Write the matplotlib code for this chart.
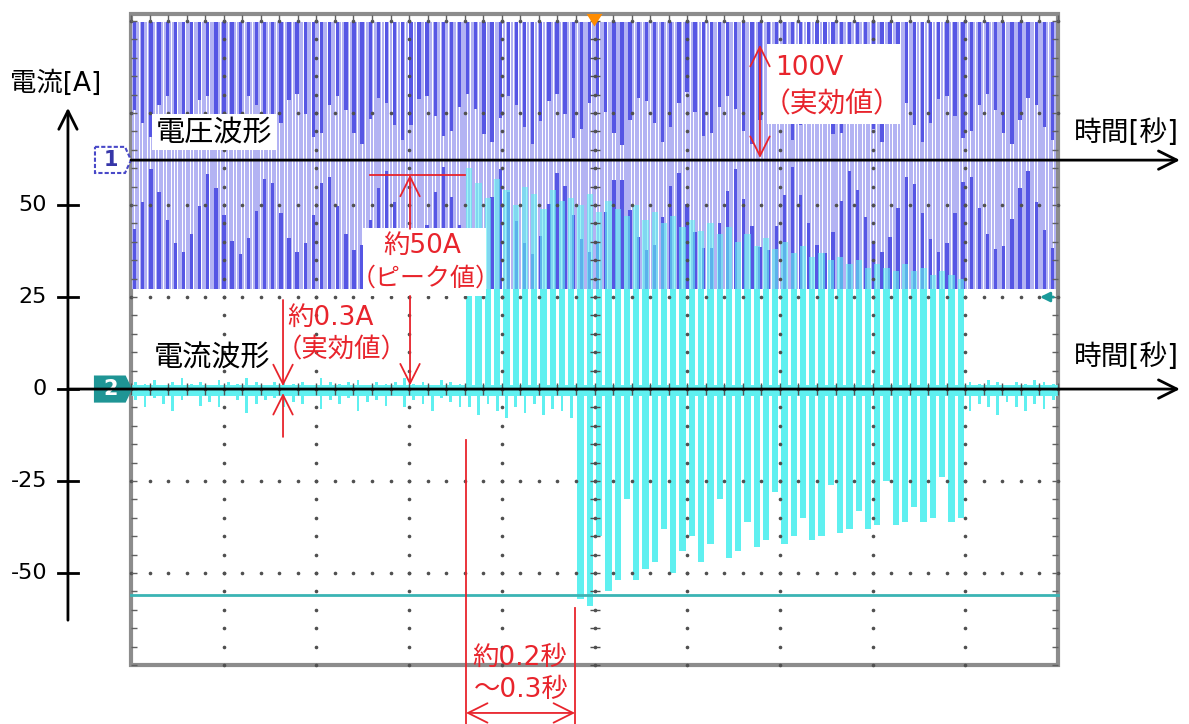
import numpy as np
import matplotlib.pyplot as plt
from matplotlib.patches import Rectangle, Polygon

plt.rcParams['font.family'] = ['DejaVu Sans', 'Noto Sans CJK JP']

# --- datos -------------------------------------------------------------------

# 電圧波形 (100V/div), 表示の上端と下端 [V]
v_top = 150
v_bottom = -140
# 上から垂れる濃い縦線の下端 [V]
v_upper_ends = [55, 40, 25, 60, 70, 45, 20, 35, 65, 70, 50, 30, 15, 45, 70, 60, 35, 20, 40,
                65, 72, 50, 25, 30, 60, 70, 55, 30, 18, 45, 68, 62, 38, 22, 38, 66, 70, 48,
                26, 32, 58, 72, 56, 28, 20, 46, 70, 60, 36, 18, 42, 64, 72, 50, 24, 34, 62,
                70, 52, 30, 16, 44, 68, 64, 40, 20, 36, 62, 74, 52, 26, 30, 58, 70, 56, 32,
                18, 44, 66, 66, 42, 22, 38, 64, 72, 50, 28, 30, 56, 70, 58, 34, 20, 46, 68,
                62, 38, 20, 40, 66, 70, 48, 24, 32, 60, 72, 54, 30, 18, 44, 68, 60, 36, 22]
# 下から伸びる濃い縦線の上端 [V]
v_lower_ends = [-75, -45, -10, -35, -65, -90, -100, -80, -50, -15, -30, -60, -88, -102, -85, -55, -20, -25, -58,
                -85, -100, -90, -60, -25, -18, -50, -80, -98, -92, -65, -30, -12, -45, -75, -95, -96, -70, -35,
                -8, -40, -70, -92, -100, -75, -40, -10, -35, -66, -90, -102, -82, -48, -14, -28, -60, -86, -100,
                -88, -56, -22, -22, -54, -84, -98, -92, -62, -28, -14, -48, -78, -96, -95, -68, -34, -10, -42,
                -72, -94, -98, -72, -38, -8, -38, -68, -92, -101, -78, -44, -12, -32, -62, -88, -100, -84, -52,
                -18, -26, -58, -86, -100, -90, -58, -24, -18, -52, -80, -97, -93, -64, -30, -12, -46, -76, -95]

# 電流波形: 1周期 (0.02秒) ごとの正・負のピーク [A]
i_pos = [2, 1.5, 2.5, 1, 2, 3, 1.5, 2, 1, 2.5, 2, 1.5, 3, 2, 1, 2, 2.5, 1.5,
         2, 1, 3, 2, 1.5, 2, 2.5, 1, 2, 1.5, 2, 3, 1.5, 2, 1, 2.5, 2, 1.5,
         60, 56, 52, 57, 54, 50, 55, 53, 49, 54, 51, 52, 50, 53, 48, 51, 49, 47,
         50, 46, 48, 45, 47, 44, 46, 43, 45, 42, 44, 40, 42, 39, 41, 38, 40, 37,
         39, 36, 37, 35, 36, 34, 35, 33, 34, 33, 32, 34, 32, 33, 31, 32, 31, 30,
         2, 1.5, 2.5, 2, 1, 2, 1.5, 2.5, 2, 1.5]
i_neg = [-3, -5, -2.5, -4, -6, -3, -2, -4.5, -3.5, -5, -2, -3, -6.5, -4, -3, -2.5, -5, -3.5,
         -4, -2, -5.5, -3, -4, -2.5, -6, -3.5, -3, -4.5, -2, -5, -3, -4, -6, -2.5, -3.5, -5,
         -5, -7, -4, -6, -8, -5, -6.5, -4, -7, -5.5, -6, -8,
         -57, -59, -40, -55, -52, -30, -52, -49, -47, -38, -50, -44, -40, -47,
         -42, -30, -46, -44, -36, -43, -41, -28, -42, -40, -35, -41, -40, -26,
         -39, -38, -33, -38, -37, -25, -37, -36, -32, -36, -35, -24, -36, -35,
         -6, -4, -5, -7, -3.5, -5, -6, -4, -5.5, -3]
noise_band = 2.0
cursor_level = -56

y_ticks = [50, 25, 0, -25, -50]

# --- escalas -----------------------------------------------------------------
t_div = 0.2          # 秒/div
i_div = 25           # A/div
v_div = 100          # V/div
ch1_level = 62.2     # posicion del canal 1 (en unidades de corriente)
t_end = 10 * t_div
y_low, y_high = -75, 101.9


def volt(v):
    return ch1_level + np.asarray(v, dtype=float) * i_div / v_div


red = '#e8242c'
cyan = '#5ff0f0'
lav = '#b3b3f3'
dark = '#5656e4'

fig = plt.figure(figsize=(11.89, 7.24), dpi=100)
ax = fig.add_axes([0, 0, 1, 1])
ax.set_xlim(-0.2826, 2.2826)
ax.set_ylim(-91.0, 105.7)
ax.axis('off')

# pantalla del osciloscopio
ax.add_patch(Rectangle((0, y_low), t_end, y_high - y_low, facecolor='white',
                       edgecolor='#8c8c8c', lw=3, zorder=1))

# --- canal 1: voltaje ----------------------------------------------------------
xs = np.arange(0.004, t_end - 0.004, 0.0058)
ax.bar(xs, volt(v_top) - volt(v_bottom), bottom=volt(v_bottom), width=0.0044,
       color=lav, lw=0, zorder=2)
xu = np.linspace(0.008, t_end - 0.012, len(v_upper_ends))
ax.bar(xu, volt(v_top) - volt(v_upper_ends), bottom=volt(v_upper_ends), width=0.0072,
       color=dark, lw=0, zorder=2)
xl = np.linspace(0.008, t_end - 0.012, len(v_lower_ends))
ax.bar(xl, volt(v_lower_ends) - volt(v_bottom), bottom=volt(v_bottom), width=0.0072,
       color=dark, lw=0, zorder=2)

# --- canal 2: corriente --------------------------------------------------------
t = 0.01 + 0.02 * np.arange(len(i_pos))
ip = np.array(i_pos, dtype=float)
ineg = np.array(i_neg, dtype=float)
band = volt(v_bottom)
wp = np.where(ip > 10, 0.0135, 0.006)
wn = np.where(ineg < -10, 0.0135, 0.006)
ax.fill_between([0, t_end], -noise_band, noise_band * 0.6, color=cyan, lw=0, zorder=3)
ax.bar(t, np.minimum(ip, band), bottom=0, width=wp, color=cyan, lw=0, zorder=3)
ax.bar(t, np.maximum(ip - band, 0), bottom=band, width=wp, color=cyan, lw=0,
       alpha=0.6, zorder=3)
ax.bar(t, ineg, bottom=0, width=wn, color=cyan, lw=0, zorder=3)

# cursor
ax.plot([0, t_end], [cursor_level, cursor_level], color='#3ab4b4', lw=2, zorder=4)

# --- reticula punteada ---------------------------------------------------------
gx = np.arange(0, t_end + 1e-9, t_div / 5)
gy = np.arange(y_low, y_high, i_div / 5)
for yy in np.arange(y_low + i_div, y_high, i_div):
    ax.plot(gx, np.full_like(gx, yy), ls='none', marker='o', ms=1.6, color='#505050', zorder=5)
for xx in np.arange(t_div, t_end - 1e-9, t_div):
    ax.plot(np.full_like(gy, xx), gy, ls='none', marker='o', ms=1.6, color='#505050', zorder=5)
ax.plot(np.full_like(gy, t_end / 2), gy, ls='none', marker='_', ms=7, mew=1, color='#505050', zorder=5)
ax.plot(gx, np.zeros_like(gx), ls='none', marker='|', ms=8, mew=1, color='#505050', zorder=5)
ax.plot(np.full_like(gy, 0.006), gy, ls='none', marker='_', ms=5, mew=1, color='#606060', zorder=5)
ax.plot(np.full_like(gy, t_end - 0.006), gy, ls='none', marker='_', ms=5, mew=1, color='#606060', zorder=5)
ax.plot(gx, np.full_like(gx, y_high - 1.2), ls='none', marker='|', ms=5, mew=1, color='#606060', zorder=5)

# marcadores del osciloscopio
ax.add_patch(Polygon([(-0.0777, 65.8), (-0.0129, 65.8), (0, ch1_level), (-0.0129, 58.7),
                      (-0.0777, 58.7)], closed=True, facecolor='white', edgecolor='#4848c8',
                     lw=1.5, ls=(0, (2, 1)), zorder=6))
ax.text(-0.043, ch1_level, '1', ha='center', va='center', fontsize=15, color='#3636a8',
        fontweight='bold', zorder=7)
ax.add_patch(Polygon([(-0.0777, 3.4), (-0.0129, 3.4), (0, 0), (-0.0129, -3.4),
                      (-0.0777, -3.4)], closed=True, facecolor='#1f9595', edgecolor='#1f9595',
                     lw=1.5, zorder=6))
ax.text(-0.043, 0, '2', ha='center', va='center', fontsize=15, color='white',
        fontweight='bold', zorder=7)
ax.add_patch(Polygon([(t_end / 2 - 0.017, y_high), (t_end / 2 + 0.017, y_high),
                      (t_end / 2, y_high - 3.4)], closed=True, facecolor='#ff8c00',
                     edgecolor='none', zorder=7))
ax.annotate('', xy=(t_end - 0.045, 25), xytext=(t_end - 0.004, 25),
            arrowprops=dict(arrowstyle='-|>', color='#1a9a9a', lw=2, mutation_scale=14),
            zorder=7)

# --- ejes de tiempo y corriente -----------------------------------------------
arrow_k = dict(arrowstyle='->,head_length=0.6,head_width=0.3', lw=2, color='black',
               mutation_scale=22, shrinkA=0, shrinkB=0)
ax.annotate('', xy=(2.263, ch1_level), xytext=(0, ch1_level), arrowprops=arrow_k, zorder=8)
ax.annotate('', xy=(2.263, 0), xytext=(-0.136, 0), arrowprops=arrow_k, zorder=8)
ax.annotate('', xy=(-0.136, 76.4), xytext=(-0.136, -62.8), arrowprops=arrow_k, zorder=8)
for v in y_ticks:
    ax.plot([-0.158, -0.114], [v, v], color='black', lw=2, zorder=8)
    ax.text(-0.181, v, str(v), ha='right', va='center', fontsize=16, zorder=8)
ax.text(-0.163, 83.0, '電流[A]', ha='center', va='center', fontsize=19, zorder=8)
ax.text(2.147, 69.6, '時間[秒]', ha='center', va='center', fontsize=20, zorder=8)
ax.text(2.147, 8.7, '時間[秒]', ha='center', va='center', fontsize=20, zorder=8)

ax.text(0.179, 69.8, '電圧波形', ha='center', va='center', fontsize=21, zorder=9,
        bbox=dict(facecolor='white', edgecolor='none', pad=3))
ax.text(0.175, 8.4, '電流波形', ha='center', va='center', fontsize=21, zorder=9)

# --- anotaciones en rojo -------------------------------------------------------
arrow_r = dict(arrowstyle='->,head_length=0.7,head_width=0.35', lw=1.3, color=red,
               mutation_scale=20, shrinkA=0, shrinkB=0)
arrow_rr = dict(arrowstyle='<->,head_length=0.7,head_width=0.35', lw=1.3, color=red,
                mutation_scale=20, shrinkA=0, shrinkB=0)
fs_red = 19

# 100V
ax.add_patch(Rectangle((1.372, 72.0), 0.29, 21.8, facecolor='white', edgecolor='none', zorder=9))
ax.annotate('', xy=(1.357, 93.5), xytext=(1.357, 62.8), arrowprops=arrow_rr, zorder=10)
ax.text(1.39, 87.3, '100V', ha='left', va='center', fontsize=fs_red, color=red, zorder=10)
ax.text(1.512, 77.3, '（実効値）', ha='center', va='center', fontsize=fs_red + 1, color=red, zorder=10)

# 約50A
ax.add_patch(Rectangle((0.50, 25.3), 0.265, 18.5, facecolor='white', edgecolor='none', zorder=9))
ax.plot([0.516, 0.721], [58.2, 58.2], color=red, lw=1.3, zorder=10)
ax.annotate('', xy=(0.602, 58.2), xytext=(0.602, 43.5), arrowprops=arrow_r, zorder=10)
ax.annotate('', xy=(0.602, 1.0), xytext=(0.602, 25.3), arrowprops=arrow_r, zorder=10)
ax.text(0.628, 39.0, '約50A', ha='center', va='center', fontsize=fs_red, color=red, zorder=10)
ax.text(0.635, 30.0, '（ピーク値）', ha='center', va='center', fontsize=fs_red - 1, color=red, zorder=10)

# 約0.3A
ax.annotate('', xy=(0.328, 0.8), xytext=(0.328, 24.2), arrowprops=arrow_r, zorder=10)
ax.annotate('', xy=(0.328, -1.1), xytext=(0.328, -13.0), arrowprops=arrow_r, zorder=10)
ax.text(0.338, 19.3, '約0.3A', ha='left', va='center', fontsize=fs_red, color=red, zorder=10)
ax.text(0.455, 10.6, '（実効値）', ha='center', va='center', fontsize=fs_red, color=red, zorder=10)

# 約0.2秒～0.3秒
ax.plot([0.7228, 0.7228], [-13.9, -91.0], color=red, lw=1.3, zorder=10)
ax.plot([0.958, 0.958], [-59.5, -91.0], color=red, lw=1.3, zorder=10)
ax.annotate('', xy=(0.958, -88.0), xytext=(0.7228, -88.0), arrowprops=arrow_rr, zorder=10)
ax.text(0.838, -73.1, '約0.2秒', ha='center', va='center', fontsize=fs_red, color=red, zorder=10)
ax.text(0.842, -81.8, '～0.3秒', ha='center', va='center', fontsize=fs_red, color=red, zorder=10)

fig.savefig('out.png', dpi=100)
